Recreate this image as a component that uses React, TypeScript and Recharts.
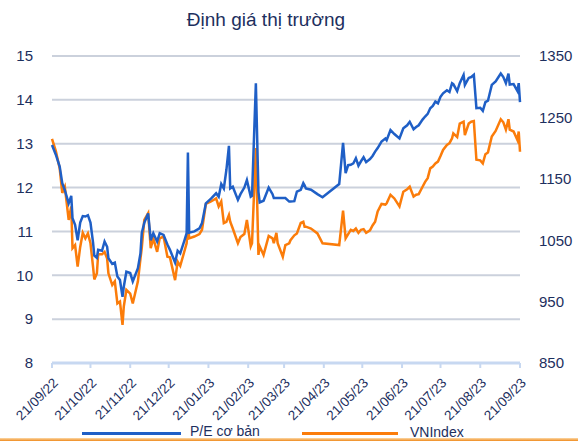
import { CartesianGrid, Line, LineChart, XAxis, YAxis } from 'recharts';

const dates = [
  '2022-09-21', '2022-09-24', '2022-09-27', '2022-09-29', '2022-10-01', '2022-10-04', '2022-10-06', '2022-10-07',
  '2022-10-09', '2022-10-11', '2022-10-13', '2022-10-15', '2022-10-17', '2022-10-19', '2022-10-21', '2022-10-23',
  '2022-10-24', '2022-10-26', '2022-10-27', '2022-10-30', '2022-11-01', '2022-11-03', '2022-11-04', '2022-11-07',
  '2022-11-09', '2022-11-11', '2022-11-13', '2022-11-15', '2022-11-16', '2022-11-18', '2022-11-21', '2022-11-23',
  '2022-11-27', '2022-11-29', '2022-11-30', '2022-12-02', '2022-12-05', '2022-12-07', '2022-12-09', '2022-12-12',
  '2022-12-14', '2022-12-17', '2022-12-20', '2022-12-22', '2022-12-26', '2022-12-28', '2022-12-30', '2023-01-02',
  '2023-01-04', '2023-01-05', '2023-01-06', '2023-01-10', '2023-01-14', '2023-01-16', '2023-01-19', '2023-01-23',
  '2023-01-27', '2023-01-29', '2023-01-31', '2023-02-02', '2023-02-04', '2023-02-06', '2023-02-07', '2023-02-09',
  '2023-02-13', '2023-02-15', '2023-02-18', '2023-02-20', '2023-02-23', '2023-02-24', '2023-02-27', '2023-03-01',
  '2023-03-02', '2023-03-05', '2023-03-09', '2023-03-12', '2023-03-13', '2023-03-15', '2023-03-16', '2023-03-20',
  '2023-03-22', '2023-03-25', '2023-03-26', '2023-03-29', '2023-03-31', '2023-04-03', '2023-04-05', '2023-04-06',
  '2023-04-07', '2023-04-11', '2023-04-16', '2023-04-20', '2023-05-03', '2023-05-06', '2023-05-08', '2023-05-10',
  '2023-05-12', '2023-05-14', '2023-05-16', '2023-05-18', '2023-05-20', '2023-05-22', '2023-05-24', '2023-05-27',
  '2023-05-29', '2023-05-31', '2023-06-02', '2023-06-05', '2023-06-08', '2023-06-09', '2023-06-12', '2023-06-15',
  '2023-06-19', '2023-06-22', '2023-06-25', '2023-06-27', '2023-06-30', '2023-07-02', '2023-07-04', '2023-07-07',
  '2023-07-09', '2023-07-11', '2023-07-13', '2023-07-15', '2023-07-17', '2023-07-19', '2023-07-21', '2023-07-23',
  '2023-07-26', '2023-07-28', '2023-07-30', '2023-07-31', '2023-08-03', '2023-08-05', '2023-08-08', '2023-08-09',
  '2023-08-12', '2023-08-14', '2023-08-16', '2023-08-18', '2023-08-21', '2023-08-23', '2023-08-25', '2023-08-27',
  '2023-08-30', '2023-09-02', '2023-09-06', '2023-09-08', '2023-09-10', '2023-09-12', '2023-09-13', '2023-09-16',
  '2023-09-19', '2023-09-20', '2023-09-21',
];

// P/E cơ bản (left axis)
const peValues = [
  12.97, 12.75, 12.48, 12.1, 11.94, 11.64, 11.81, 11.3,
  11.15, 10.8, 11.2, 11.35, 11.34, 11.37, 11.2, 10.75,
  10.45, 10.4, 10.58, 10.56, 10.77, 10.65, 10.39, 10.26,
  10.29, 9.97, 9.89, 9.51, 9.74, 10.08, 10.05, 9.86,
  10.16, 10.5, 10.96, 11.2, 11.41, 10.8, 10.96, 10.77,
  10.96, 10.92, 10.7, 10.58, 10.29, 10.56, 10.5, 10.77,
  10.96, 12.8, 10.97, 11.0, 11.07, 11.19, 11.64, 11.75,
  11.87, 11.79, 12.08, 11.98, 12.4, 12.95, 11.98, 12.02,
  11.72, 11.85, 12.0, 12.17, 11.79, 11.81, 14.38, 11.9,
  11.66, 11.7, 12.0, 11.85, 11.76, 11.76, 11.76, 11.76,
  11.76, 11.68, 11.68, 11.69, 11.91, 11.95, 12.1, 12.05,
  11.98, 11.95, 11.85, 11.78, 12.08, 13.02, 12.33, 12.51,
  12.52, 12.55, 12.67, 12.5, 12.6, 12.69, 12.58, 12.65,
  12.72, 12.82, 12.9, 13.05, 13.12, 13.08, 13.31, 13.22,
  13.12, 13.35, 13.42, 13.5, 13.33, 13.38, 13.42, 13.55,
  13.62, 13.68, 13.81, 13.86, 13.96, 13.92, 14.07, 14.15,
  14.22, 14.18, 14.38, 14.36, 14.2, 14.38, 14.57, 14.34,
  14.5, 14.52, 14.57, 13.81, 13.82, 13.75, 13.95, 13.98,
  14.34, 14.42, 14.6, 14.52, 14.38, 14.6, 14.35, 14.36,
  14.2, 14.38, 13.95,
];

// VNIndex (right axis)
const vnIndexValues = [
  1215, 1195, 1167, 1127, 1137, 1083, 1105, 1037,
  1042, 1007, 1039, 1062, 1053, 1061, 1045, 1007,
  986, 996, 1027, 1027, 1031, 1020, 996, 977,
  983, 947, 950, 912, 942, 969, 963, 947,
  983, 1020, 1037, 1083, 1094, 1037, 1053, 1031,
  1053, 1056, 1023, 1022, 985, 1015, 1008, 1030,
  1045, 1077, 1053, 1056, 1060, 1067, 1109, 1113,
  1118, 1105, 1113, 1078, 1080, 1091, 1080, 1069,
  1045, 1055, 1060, 1083, 1040, 1045, 1200, 1026,
  1040, 1026, 1057, 1053, 1045, 1062, 1045, 1023,
  1042, 1045, 1050, 1058, 1061, 1078, 1080, 1072,
  1072, 1069, 1061, 1045, 1042, 1098, 1053, 1060,
  1067, 1065, 1069, 1062, 1067, 1068, 1062, 1066,
  1074, 1080, 1097, 1109, 1108, 1110, 1124, 1118,
  1105, 1129, 1133, 1137, 1121, 1124, 1125, 1137,
  1145, 1151, 1167, 1170, 1175, 1178, 1187, 1197,
  1205, 1208, 1216, 1224, 1218, 1240, 1243, 1221,
  1240, 1243, 1244, 1181, 1180, 1175, 1190, 1193,
  1219, 1228, 1247, 1242, 1230, 1247, 1230, 1227,
  1213, 1227, 1194,
];

const xTickDates = [
  '2022-09-21', '2022-10-21', '2022-11-21', '2022-12-21', '2023-01-21', '2023-02-21', '2023-03-21',
  '2023-04-21', '2023-05-21', '2023-06-21', '2023-07-21', '2023-08-21', '2023-09-21',
];
const peTicks = [8, 9, 10, 11, 12, 13, 14, 15];
const vnTicks = [850, 950, 1050, 1150, 1250, 1350];

const toTime = (s: string) => {
  const [y, m, d] = s.split('-').map(Number);
  return Date.UTC(y, m - 1, d);
};

const fmtDate = (t: number) => {
  const d = new Date(t);
  const dd = String(d.getUTCDate()).padStart(2, '0');
  const mm = String(d.getUTCMonth() + 1).padStart(2, '0');
  const yy = String(d.getUTCFullYear()).slice(2);
  return `${dd}/${mm}/${yy}`;
};

const data = dates.map((s, i) => ({ t: toTime(s), pe: peValues[i], vni: vnIndexValues[i] }));
const xTicks = xTickDates.map(toTime);

const NAVY = '#1d2f5e';
const BLUE = '#1f5fc6';
const ORANGE = '#fb7c0a';
const FONT = '"Liberation Sans", Arial, sans-serif';

export default function App() {
  return (
    <div
      style={{
        position: 'absolute',
        left: 0,
        top: 0,
        width: 578,
        height: 441,
        overflow: 'hidden',
        background: '#fff',
        fontFamily: FONT,
      }}
    >
      <div
        style={{
          position: 'absolute',
          top: 9,
          left: 0,
          width: 532,
          textAlign: 'center',
          fontSize: 19,
          color: NAVY,
        }}
      >
        Định giá thị trường
      </div>
      <LineChart width={578} height={441} data={data} margin={{ top: 56, right: 0, bottom: 18, left: 0 }}>
        <CartesianGrid yAxisId="left" vertical={false} stroke="#cbd1dc" strokeWidth={2} />
        <XAxis
          dataKey="t"
          type="number"
          scale="time"
          domain={[xTicks[0], xTicks[xTicks.length - 1]]}
          ticks={xTicks}
          tickFormatter={fmtDate}
          interval={0}
          angle={-45}
          textAnchor="end"
          height={60}
          tickSize={5}
          tickMargin={9}
          axisLine={{ stroke: '#c7d8f1', strokeWidth: 3 }}
          tickLine={{ stroke: '#c7d8f1', strokeWidth: 2 }}
          tick={{ fill: NAVY, fontSize: 13.5, fontFamily: FONT }}
        />
        <YAxis
          yAxisId="left"
          domain={[8, 15]}
          ticks={peTicks}
          width={52}
          axisLine={false}
          tickLine={false}
          tickSize={0}
          tickMargin={19}
          tick={{ fill: NAVY, fontSize: 15, fontFamily: FONT }}
        />
        <YAxis
          yAxisId="right"
          orientation="right"
          domain={[850, 1350]}
          ticks={vnTicks}
          width={58}
          axisLine={false}
          tickLine={false}
          tickSize={0}
          tickMargin={19}
          tick={{ fill: NAVY, fontSize: 15, fontFamily: FONT }}
        />
        <Line
          yAxisId="right"
          dataKey="vni"
          stroke={ORANGE}
          strokeWidth={2.5}
          dot={false}
          type="linear"
          isAnimationActive={false}
        />
        <Line
          yAxisId="left"
          dataKey="pe"
          stroke={BLUE}
          strokeWidth={2.5}
          dot={false}
          type="linear"
          isAnimationActive={false}
        />
      </LineChart>
      <div style={{ position: 'absolute', top: 432, left: 82, width: 99, height: 3, background: BLUE }} />
      <div style={{ position: 'absolute', top: 424, left: 190, fontSize: 14, lineHeight: 1, color: NAVY }}>
        P/E cơ bản
      </div>
      <div style={{ position: 'absolute', top: 432, left: 302, width: 96, height: 3, background: ORANGE }} />
      <div style={{ position: 'absolute', top: 425, left: 410, fontSize: 14, lineHeight: 1, color: NAVY }}>
        VNIndex
      </div>
      <div
        style={{
          position: 'absolute',
          top: 438,
          left: 0,
          width: 578,
          height: 3,
          background: 'linear-gradient(to bottom, #fcd9a8, #ef8a1d)',
        }}
      />
    </div>
  );
}
